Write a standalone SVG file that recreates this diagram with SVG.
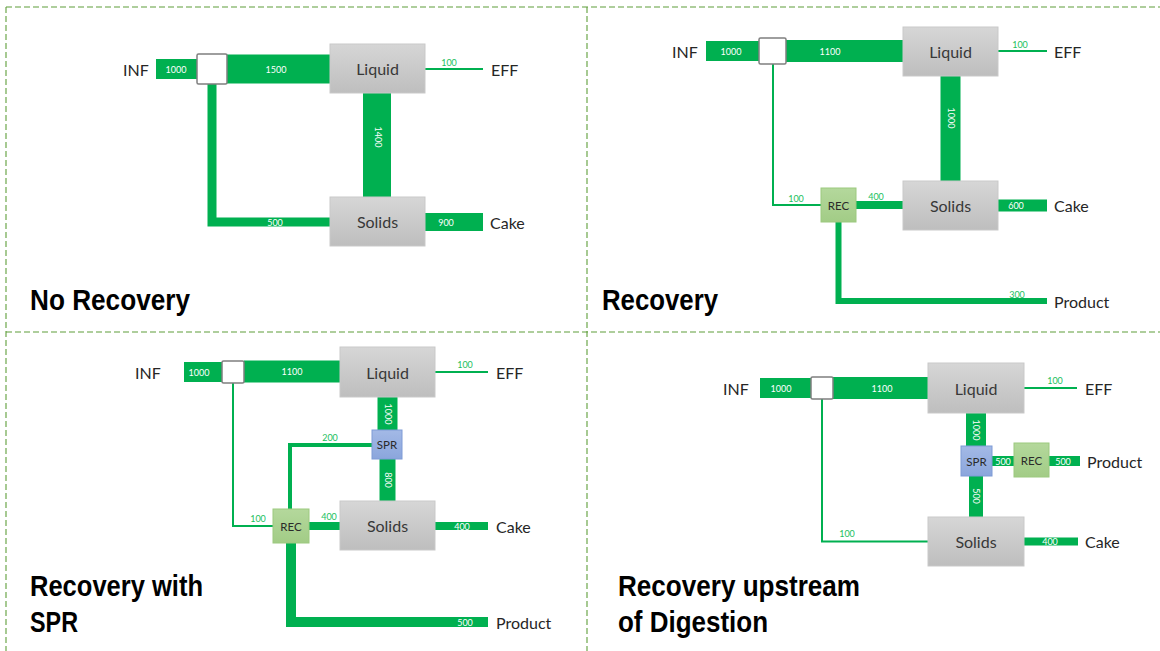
<svg xmlns="http://www.w3.org/2000/svg" width="1160" height="651" viewBox="0 0 1160 651">
<style>
.frame{stroke:#5f9e3a;stroke-width:1.1;stroke-dasharray:6 3;fill:none}
.bar{stroke:#00B050;fill:none;stroke-linecap:butt;stroke-linejoin:miter}
.box{fill:url(#gray);stroke:#c9c9c9;stroke-width:1}
.jn{fill:#fff;stroke:#7f7f7f;stroke-width:1.5}
.rec{fill:url(#grn);stroke:#9cc97f;stroke-width:1}
.spr{fill:url(#blu);stroke:#7e9bd6;stroke-width:1}
.nt{font-family:Lato,"Open Sans",sans-serif;font-size:16px;fill:#383838;text-anchor:middle;dominant-baseline:central}
.st{font-family:Lato,"Open Sans",sans-serif;font-size:11.5px;fill:#2a2a2a;text-anchor:middle;dominant-baseline:central}
.sl{font-family:Lato,"Open Sans",sans-serif;font-size:16px;fill:#262626;dominant-baseline:central}
.fw{font-family:Lato,"Open Sans",sans-serif;font-size:9px;fill:#fff;text-anchor:middle;dominant-baseline:central}
.fg{font-family:Lato,"Open Sans",sans-serif;font-size:9px;fill:#22c060;text-anchor:middle;dominant-baseline:central}
.title{font-family:"Liberation Sans",Arial,sans-serif;font-weight:bold;font-size:29px;fill:#000}
</style>
<defs>
<linearGradient id="gray" x1="0" y1="0" x2="0" y2="1"><stop offset="0" stop-color="#d6d6d6"/><stop offset="1" stop-color="#bebebe"/></linearGradient>
<linearGradient id="grn" x1="0" y1="0" x2="0" y2="1"><stop offset="0" stop-color="#b4d89c"/><stop offset="1" stop-color="#a2cc86"/></linearGradient>
<linearGradient id="blu" x1="0" y1="0" x2="0" y2="1"><stop offset="0" stop-color="#a3b9e6"/><stop offset="1" stop-color="#8ba6dc"/></linearGradient>
</defs>
<rect width="1160" height="651" fill="#fff"/>
<g id="frames">
<path class="frame" d="M6,7 H1160"/>
<path class="frame" d="M6,7 V651"/>
<path class="frame" d="M587,7 V651"/>
<path class="frame" d="M6,332 H1160"/>
</g>
<g id="connectors">
<path class="bar" stroke-width="20" d="M156,69 H197"/>
<path class="bar" stroke-width="29" d="M227,69 H330"/>
<path class="bar" stroke-width="2" d="M425,69 H483"/>
<path class="bar" stroke-width="28" d="M377,93 V197"/>
<path class="bar" stroke-width="9" d="M212,84 V222 H330"/>
<path class="bar" stroke-width="18" d="M425,222 H483"/>
<path class="bar" stroke-width="20" d="M706,51 H759"/>
<path class="bar" stroke-width="22" d="M786,51 H903"/>
<path class="bar" stroke-width="2" d="M998,51 H1047"/>
<path class="bar" stroke-width="20" d="M950.5,76 V181"/>
<path class="bar" stroke-width="2" d="M773,64 V205 H821"/>
<path class="bar" stroke-width="8" d="M856,205 H903"/>
<path class="bar" stroke-width="12" d="M998,205.5 H1047"/>
<path class="bar" stroke-width="6" d="M838.5,222 V301 H1047"/>
<path class="bar" stroke-width="20" d="M184,372 H222"/>
<path class="bar" stroke-width="22" d="M244,371.5 H340"/>
<path class="bar" stroke-width="2" d="M435,372 H488"/>
<path class="bar" stroke-width="20" d="M387.5,397 V430"/>
<path class="bar" stroke-width="16" d="M387.5,459 V501"/>
<path class="bar" stroke-width="4" d="M372,445 H290 V509"/>
<path class="bar" stroke-width="2" d="M233,383 V526 H273"/>
<path class="bar" stroke-width="8" d="M309,526 H340"/>
<path class="bar" stroke-width="8" d="M435,526 H488"/>
<path class="bar" stroke-width="10" d="M291,543 V622 H488"/>
<path class="bar" stroke-width="20" d="M760,388 H811"/>
<path class="bar" stroke-width="22" d="M833,388 H928"/>
<path class="bar" stroke-width="2" d="M1024,388 H1077"/>
<path class="bar" stroke-width="20" d="M976,413 V446"/>
<path class="bar" stroke-width="10" d="M992,461 H1014"/>
<path class="bar" stroke-width="10" d="M1049,461 H1080"/>
<path class="bar" stroke-width="14" d="M976,476 V517"/>
<path class="bar" stroke-width="2" d="M822,399 V541.5 H928"/>
<path class="bar" stroke-width="8" d="M1024,541.5 H1078"/>
</g>
<g id="flow-labels">
<text class="fw" x="176" y="69">1000</text>
<text class="fw" x="276" y="69">1500</text>
<text class="fg" x="449" y="62">100</text>
<text class="fw" transform="translate(378,137) rotate(90)">1400</text>
<text class="fw" x="275" y="222">500</text>
<text class="fw" x="446" y="222">900</text>
<text class="fw" x="731" y="51">1000</text>
<text class="fw" x="830" y="51">1100</text>
<text class="fg" x="1020" y="44">100</text>
<text class="fw" transform="translate(951,118) rotate(90)">1000</text>
<text class="fg" x="796" y="198">100</text>
<text class="fg" x="876" y="196">400</text>
<text class="fw" x="1016" y="205.5">600</text>
<text class="fg" x="1017" y="294">300</text>
<text class="fw" x="199" y="372">1000</text>
<text class="fw" x="292" y="371.5">1100</text>
<text class="fg" x="465" y="364">100</text>
<text class="fw" transform="translate(388,414) rotate(90)">1000</text>
<text class="fw" transform="translate(388,480) rotate(90)">800</text>
<text class="fg" x="330" y="437">200</text>
<text class="fg" x="258" y="518">100</text>
<text class="fg" x="329" y="516">400</text>
<text class="fw" x="462" y="526">400</text>
<text class="fw" x="465" y="622">500</text>
<text class="fw" x="781" y="388">1000</text>
<text class="fw" x="882" y="388">1100</text>
<text class="fg" x="1055" y="380">100</text>
<text class="fw" transform="translate(976,430) rotate(90)">1000</text>
<text class="fw" x="1003" y="461">500</text>
<text class="fw" x="1063" y="461">500</text>
<text class="fw" transform="translate(976,496) rotate(90)">500</text>
<text class="fg" x="847" y="533">100</text>
<text class="fw" x="1050" y="541.5">400</text>
</g>
<g id="side-labels">
<text class="sl" x="123" y="69">INF</text>
<text class="sl" x="491" y="69">EFF</text>
<text class="sl" x="490" y="222">Cake</text>
<text class="sl" x="672" y="51">INF</text>
<text class="sl" x="1054" y="51">EFF</text>
<text class="sl" x="1054" y="205">Cake</text>
<text class="sl" x="1054" y="301">Product</text>
<text class="sl" x="135" y="372">INF</text>
<text class="sl" x="496" y="372">EFF</text>
<text class="sl" x="496" y="526">Cake</text>
<text class="sl" x="496" y="622">Product</text>
<text class="sl" x="723" y="388">INF</text>
<text class="sl" x="1085" y="388">EFF</text>
<text class="sl" x="1087" y="461">Product</text>
<text class="sl" x="1085" y="541.5">Cake</text>
</g>
<g id="p1-junction"><rect class="jn" x="197" y="54" width="30" height="30" rx="1.5"/></g>
<g id="p1-liquid"><rect class="box" x="330" y="44" width="95" height="49"/><text class="nt" x="377.5" y="68.5">Liquid</text></g>
<g id="p1-solids"><rect class="box" x="330" y="197" width="95" height="49"/><text class="nt" x="377.5" y="221.5">Solids</text></g>
<g id="p2-junction"><rect class="jn" x="759" y="38" width="27" height="26" rx="1.5"/></g>
<g id="p2-liquid"><rect class="box" x="903" y="27" width="95" height="49"/><text class="nt" x="950.5" y="51.5">Liquid</text></g>
<g id="p2-solids"><rect class="box" x="903" y="181" width="95" height="49"/><text class="nt" x="950.5" y="205.5">Solids</text></g>
<g id="p2-rec"><rect class="rec" x="821" y="188" width="35" height="34"/><text class="st" x="838.5" y="205">REC</text></g>
<g id="p3-junction"><rect class="jn" x="222" y="361" width="22" height="22" rx="1.5"/></g>
<g id="p3-liquid"><rect class="box" x="340" y="347" width="95" height="50"/><text class="nt" x="387.5" y="372">Liquid</text></g>
<g id="p3-spr"><rect class="spr" x="372" y="430" width="30" height="29"/><text class="st" x="387" y="444.5">SPR</text></g>
<g id="p3-solids"><rect class="box" x="340" y="501" width="95" height="49"/><text class="nt" x="387.5" y="525.5">Solids</text></g>
<g id="p3-rec"><rect class="rec" x="273" y="509" width="36" height="34"/><text class="st" x="291" y="526">REC</text></g>
<g id="p4-junction"><rect class="jn" x="811" y="377" width="22" height="22" rx="1.5"/></g>
<g id="p4-liquid"><rect class="box" x="928" y="363" width="96" height="50"/><text class="nt" x="976" y="388">Liquid</text></g>
<g id="p4-spr"><rect class="spr" x="961" y="446" width="31" height="30"/><text class="st" x="976.5" y="461">SPR</text></g>
<g id="p4-rec"><rect class="rec" x="1014" y="443" width="35" height="34"/><text class="st" x="1031.5" y="460.5">REC</text></g>
<g id="p4-solids"><rect class="box" x="928" y="517" width="96" height="49"/><text class="nt" x="976" y="541.5">Solids</text></g>
<g id="titles">
<text class="title" x="30" y="310" textLength="160" lengthAdjust="spacingAndGlyphs">No Recovery</text>
<text class="title" x="602" y="310" textLength="116" lengthAdjust="spacingAndGlyphs">Recovery</text>
<text class="title" x="30" y="596" textLength="173" lengthAdjust="spacingAndGlyphs">Recovery with</text>
<text class="title" x="30" y="632" textLength="48" lengthAdjust="spacingAndGlyphs">SPR</text>
<text class="title" x="618" y="596" textLength="242" lengthAdjust="spacingAndGlyphs">Recovery upstream</text>
<text class="title" x="618" y="632" textLength="150" lengthAdjust="spacingAndGlyphs">of Digestion</text>
</g>
</svg>
